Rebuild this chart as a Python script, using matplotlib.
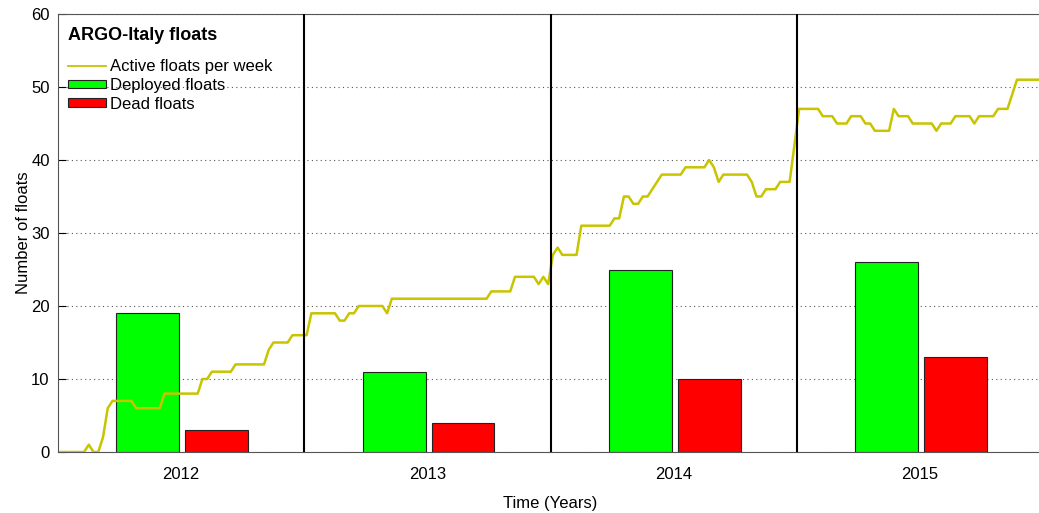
import numpy as np
import matplotlib
matplotlib.use("Agg")
import matplotlib.pyplot as plt

plt.rcParams['font.family'] = ['Liberation Sans', 'DejaVu Sans']

years = [2012, 2013, 2014, 2015]
deployed = [19, 11, 25, 26]
dead = [3, 4, 10, 13]

# active floats, one value per week (52 weeks per year, 2012-2015)
active_2012 = [0, 0, 0, 0, 0, 0, 1, 0, 0, 2, 6, 7, 7, 7, 7, 7,
               6, 6, 6, 6, 6, 6, 8, 8, 8, 8, 8, 8, 8, 8, 10, 10,
               11, 11, 11, 11, 11, 12, 12, 12, 12, 12, 12, 12, 14, 15, 15, 15,
               15, 16, 16, 16]
active_2013 = [16, 19, 19, 19, 19, 19, 19, 18, 18, 19, 19, 20, 20, 20, 20, 20,
               20, 19, 21, 21, 21, 21, 21, 21, 21, 21, 21, 21, 21, 21, 21, 21,
               21, 21, 21, 21, 21, 21, 21, 22, 22, 22, 22, 22, 24, 24, 24, 24,
               24, 23, 24, 23]
active_2014 = [27, 28, 27, 27, 27, 27, 31, 31, 31, 31, 31, 31, 31, 32, 32, 35,
               35, 34, 34, 35, 35, 36, 37, 38, 38, 38, 38, 38, 39, 39, 39, 39,
               39, 40, 39, 37, 38, 38, 38, 38, 38, 38, 37, 35, 35, 36, 36, 36,
               37, 37, 37, 42]
active_2015 = [47, 47, 47, 47, 47, 46, 46, 46, 45, 45, 45, 46, 46, 46, 45, 45,
               44, 44, 44, 44, 47, 46, 46, 46, 45, 45, 45, 45, 45, 44, 45, 45,
               45, 46, 46, 46, 46, 45, 46, 46, 46, 46, 47, 47, 47, 49, 51, 51,
               51, 51, 51, 51]

active = np.array(active_2012 + active_2013 + active_2014 + active_2015)
weeks = 2012 + (np.arange(len(active)) + 0.5) / 52

W, H = 1039, 513
fig = plt.figure(figsize=(W / 100, H / 100), dpi=100)
ax = fig.add_axes([58 / W, 61 / H, 985 / W, 438 / H])

yrs = np.array(years)
ax.plot(weeks, active, color='#c8c400', linewidth=1.8,
        label='Active floats per week', zorder=3)
ax.bar(yrs + 0.365, deployed, width=0.255, color='#00ff00', edgecolor='#222222',
       linewidth=0.8, label='Deployed floats', zorder=2)
ax.bar(yrs + 0.645, dead, width=0.255, color='#ff0000', edgecolor='#222222',
       linewidth=0.8, label='Dead floats', zorder=2)

for y in years[1:]:
    ax.axvline(y, color='black', linewidth=1.5, zorder=4)

ax.set_xlim(2012, 2016)
ax.set_ylim(0, 60)
ax.set_yticks(range(0, 61, 10))
ax.set_xticks(yrs + 0.5)
ax.set_xticklabels([str(y) for y in years])
ax.tick_params(axis='x', length=0, labelsize=12, pad=11)
ax.tick_params(axis='y', direction='in', length=6, labelsize=12, pad=6)
ax.yaxis.grid(True, linestyle=(0, (1, 3)), color='#555555', linewidth=0.8)
ax.set_axisbelow(True)
for s in ['top', 'right', 'left', 'bottom']:
    ax.spines[s].set_color('#555555')

ax.set_xlabel('Time (Years)', fontsize=12, labelpad=10)
ax.set_ylabel('Number of floats', fontsize=12, labelpad=0)

fig.text(68 / W, 1 - 35.5 / H, 'ARGO-Italy floats', fontsize=13, fontweight='bold',
         ha='left', va='center')
leg = ax.legend(loc='upper left', bbox_to_anchor=(68 / W, 1 - 59 / H),
                bbox_transform=fig.transFigure, frameon=False, fontsize=12,
                handlelength=2.3, handleheight=0.4, handletextpad=0.25,
                labelspacing=0.23, borderpad=0, borderaxespad=0)
leg.get_lines()[0].set_linewidth(1.3)
fig.savefig('out.png', dpi=100)
